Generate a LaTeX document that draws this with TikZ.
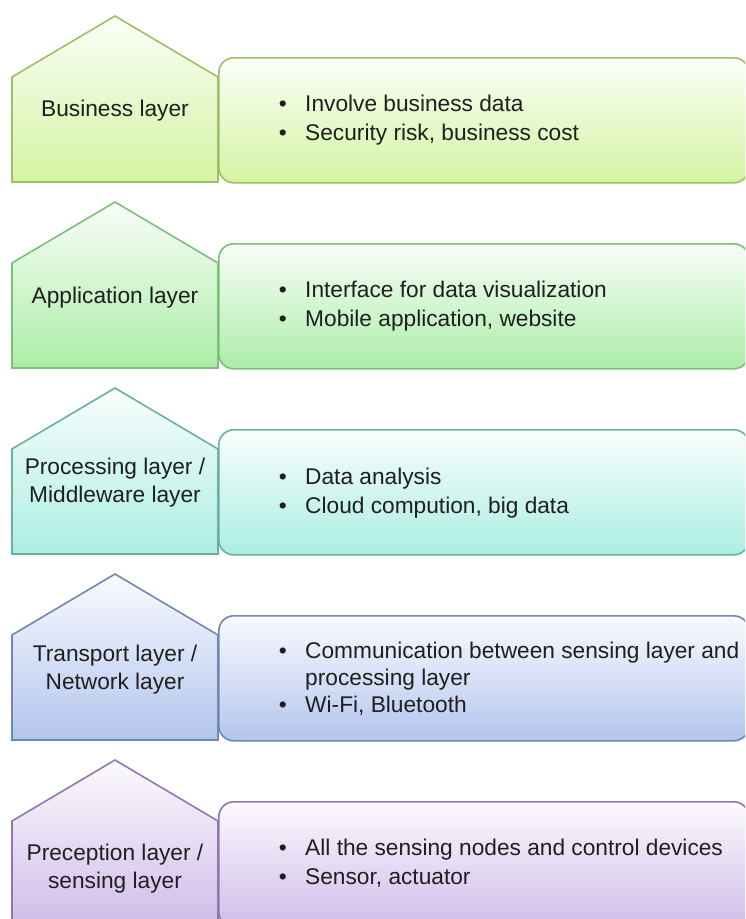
\documentclass[tikz,border=0pt]{standalone}
\usepackage{fontspec}
\setmainfont{Liberation Sans}
\usetikzlibrary{positioning}

\definecolor{busline}{HTML}{9DBF68}
\definecolor{busfill}{HTML}{D3F4A2}
\definecolor{appline}{HTML}{7BBF78}
\definecolor{appfill}{HTML}{ACEDA8}
\definecolor{procline}{HTML}{6AAFA2}
\definecolor{procfill}{HTML}{ACEEE2}
\definecolor{tranline}{HTML}{6F88B2}
\definecolor{tranfill}{HTML}{B3C5EE}
\definecolor{percline}{HTML}{9077AE}
\definecolor{percfill}{HTML}{D0BCEA}

\newcommand{\pointlist}[1]{\begin{tabular}{@{}l@{\hspace{18.5pt}}l@{}}#1\end{tabular}}

\begin{document}
\begin{tikzpicture}[x=1pt, y=-1pt, line width=1.6pt,
  house/.style={line join=miter},
  infobox/.style={rectangle, rounded corners=15pt, anchor=north west, minimum width=530pt, minimum height=125pt},
  layername/.style={align=center, text=black!88, font=\fontsize{22.7}{28}\selectfont},
  points/.style={inner sep=0pt, text=black!88, font=\fontsize{22.7}{29}\selectfont}]
\useasboundingbox (0,0) rectangle (745,919);
\clip (0,0) rectangle (745,919);

\path[house, draw=busline, top color=busfill!8, bottom color=busfill] (12,77) -- (115,16) -- (218,77) -- (218,182) -- (12,182) -- cycle;
\node[infobox, draw=busline, top color=busfill!8, bottom color=busfill] (businessinfo) at (218,57) {};
\node[layername] (business) at (115,110.5) {Business layer};
\node[points, right=60pt of businessinfo.west] (businesspoints) {\pointlist{•&Involve business data\\•&Security risk, business cost}};

\path[house, draw=appline, top color=appfill!8, bottom color=appfill] (12,263) -- (115,202) -- (218,263) -- (218,368) -- (12,368) -- cycle;
\node[infobox, draw=appline, top color=appfill!8, bottom color=appfill] (applicationinfo) at (218,243) {};
\node[layername] (application) at (115,297.5) {Application layer};
\node[points, right=60pt of applicationinfo.west] (applicationpoints) {\pointlist{•&Interface for data visualization\\•&Mobile application, website}};

\path[house, draw=procline, top color=procfill!8, bottom color=procfill] (12,449) -- (115,388) -- (218,449) -- (218,554) -- (12,554) -- cycle;
\node[infobox, draw=procline, top color=procfill!8, bottom color=procfill] (processinginfo) at (218,429) {};
\node[layername] (processing) at (115,483) {Processing layer /\\Middleware layer};
\node[points, yshift=-1pt, right=60pt of processinginfo.west] (processingpoints) {\pointlist{•&Data analysis\\•&Cloud compution, big data}};

\path[house, draw=tranline, top color=tranfill!8, bottom color=tranfill] (12,635) -- (115,574) -- (218,635) -- (218,740) -- (12,740) -- cycle;
\node[infobox, draw=tranline, top color=tranfill!8, bottom color=tranfill] (transportinfo) at (218,615) {};
\node[layername] (transport) at (115,669.5) {Transport layer /\\Network layer};
\node[points, font=\fontsize{22.7}{27}\selectfont, yshift=-2pt, right=60pt of transportinfo.west] (transportpoints) {\pointlist{•&Communication between sensing layer and\\&processing layer\\•&Wi-Fi, Bluetooth}};

\path[house, draw=percline, top color=percfill!8, bottom color=percfill] (12,821) -- (115,760) -- (218,821) -- (218,926) -- (12,926) -- cycle;
\node[infobox, draw=percline, top color=percfill!8, bottom color=percfill] (perceptioninfo) at (218,801) {};
\node[layername] (perception) at (115,869) {Preception layer /\\sensing layer};
\node[points, right=60pt of perceptioninfo.west] (perceptionpoints) {\pointlist{•&All the sensing nodes and control devices\\•&Sensor, actuator}};

\end{tikzpicture}
\end{document}
